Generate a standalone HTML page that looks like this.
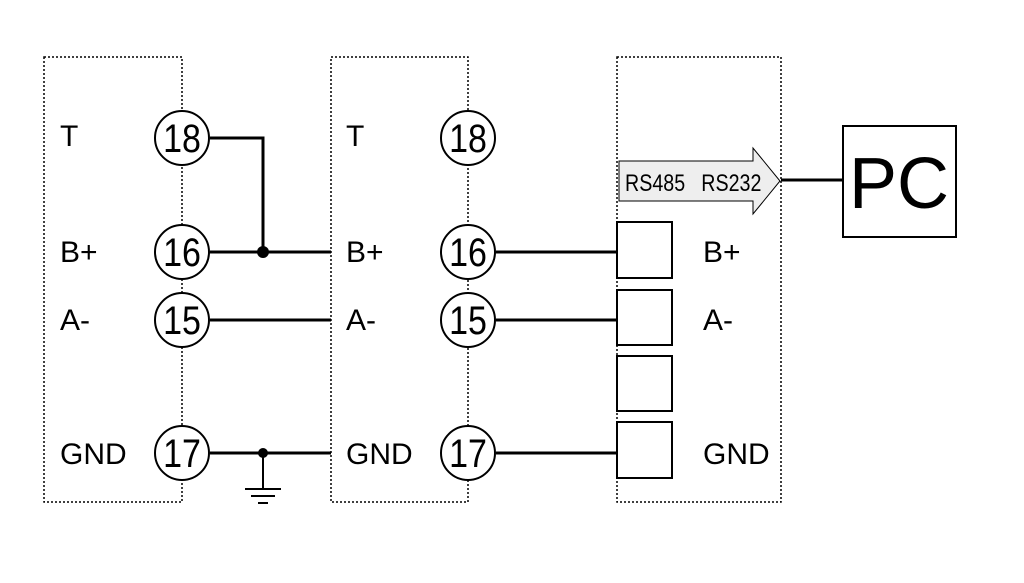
<!DOCTYPE html>
<html><head><style>body{margin:0;background:#fff}svg{display:block}</style></head><body>
<svg width="1024" height="583" viewBox="0 0 1024 583" xmlns="http://www.w3.org/2000/svg" font-family="Liberation Sans, sans-serif">
<g fill="none" stroke="#000" stroke-width="1.5" stroke-dasharray="2,2">
<rect x="44" y="57" width="138" height="445"/>
<rect x="331" y="57" width="137" height="445"/>
<rect x="617" y="57" width="164" height="445"/>
</g>
<g stroke="#000" stroke-width="3" fill="none">
<polyline points="210,138 263,138 263,252"/>
<line x1="210" y1="252" x2="331" y2="252"/>
<line x1="210" y1="320" x2="331" y2="320"/>
<line x1="210" y1="453" x2="331" y2="453"/>
<line x1="496" y1="252" x2="617" y2="252"/>
<line x1="496" y1="320" x2="617" y2="320"/>
<line x1="496" y1="453" x2="617" y2="453"/>
<line x1="781" y1="180" x2="843" y2="180"/>
</g>
<circle cx="263" cy="252" r="6"/>
<circle cx="263" cy="453" r="5"/>
<g stroke="#000" stroke-width="2">
<line x1="263" y1="453" x2="263" y2="489"/>
<line x1="245" y1="489" x2="281" y2="489"/>
<line x1="251" y1="496" x2="275" y2="496"/>
<line x1="258" y1="503" x2="268" y2="503"/>
</g>
<g fill="#fff" stroke="#000" stroke-width="2">
<circle cx="182" cy="138" r="27"/><circle cx="182" cy="252" r="27"/><circle cx="182" cy="320" r="27"/><circle cx="182" cy="453" r="27"/>
<circle cx="468" cy="138" r="27"/><circle cx="468" cy="252" r="27"/><circle cx="468" cy="320" r="27"/><circle cx="468" cy="453" r="27"/>
<rect x="617" y="222" width="55" height="56"/><rect x="617" y="290" width="55" height="55"/><rect x="617" y="356" width="55" height="55"/><rect x="617" y="422" width="55" height="56"/>
<rect x="843" y="126" width="113" height="111"/>
</g>
<polygon points="619,161 753,161 753,148 780,181 753,214 753,201 619,201" fill="#eee" stroke="#000" stroke-width="1"/>
<g font-size="40" text-anchor="middle">
<g transform="translate(182,0) scale(0.85,1)"><text y="152">18</text><text y="266">16</text><text y="334">15</text><text y="467">17</text></g>
<g transform="translate(468,0) scale(0.85,1)"><text y="152">18</text><text y="266">16</text><text y="334">15</text><text y="467">17</text></g>
</g>
<g font-size="30">
<text x="60" y="146">T</text><text x="60" y="262">B+</text><text x="60" y="330">A-</text><text x="60" y="464">GND</text>
<text x="346" y="146">T</text><text x="346" y="262">B+</text><text x="346" y="330">A-</text><text x="346" y="464">GND</text>
<text x="703" y="262">B+</text><text x="703" y="330">A-</text><text x="703" y="464">GND</text>
</g>
<g font-size="24" transform="translate(625,191) scale(0.82,1)"><text x="0" y="0">RS485</text><text x="93" y="0">RS232</text></g>
<text x="899" y="208" font-size="72" text-anchor="middle">PC</text>
</svg>
</body></html>
